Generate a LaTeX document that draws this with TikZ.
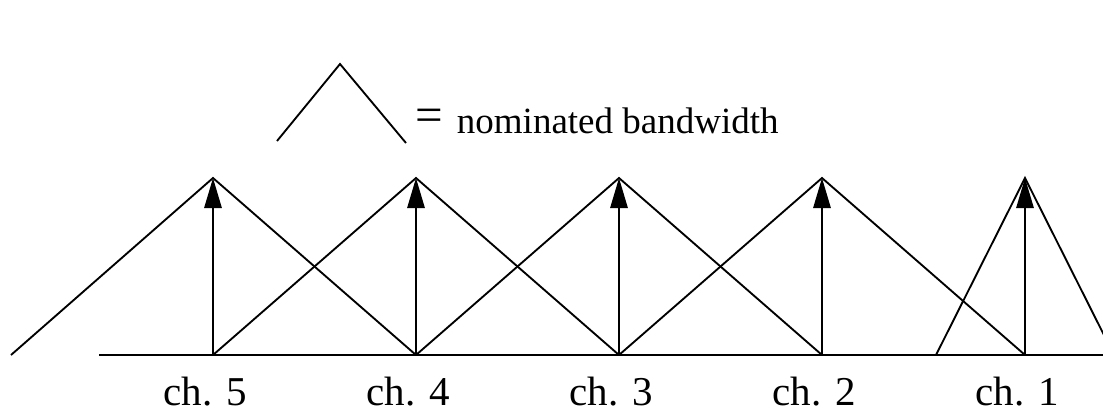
\documentclass[tikz,border=0pt]{standalone}
\usepackage{fontspec}
\setmainfont{Liberation Serif}
\usepackage{tikz}
\usetikzlibrary{arrows.meta}
\usetikzlibrary{calc}

\begin{document}
\begin{tikzpicture}[x=0.75pt, y=-0.75pt, line width=1.4pt,
        chan/.style={-{Triangle[length=22.5pt, width=13pt]}},
        chlabel/.style={anchor=base, inner sep=0, font=\fontsize{30.75}{36}\selectfont}]
        \clip (0,0) rectangle (1103,411);
        % peaks and bases of the channels
        \coordinate (p5) at (213,178); \coordinate (b5) at (213,355);
        \coordinate (p4) at (416,178); \coordinate (b4) at (416,355);
        \coordinate (p3) at (619,178); \coordinate (b3) at (619,355);
        \coordinate (p2) at (822,178); \coordinate (b2) at (822,355);
        \coordinate (p1) at (1025,178); \coordinate (b1) at (1025,355);
        \coordinate (L) at (11,355);
        \coordinate (A0) at (99,355); \coordinate (A1) at (1103,355);
        \coordinate (n1) at (936,355); \coordinate (n2) at (1114,355);
        \draw (A0) -- (A1);
        \draw (L) -- (p5) -- (b4);
        \draw (b5) -- (p4) -- (b3);
        \draw (b4) -- (p3) -- (b2);
        \draw (b3) -- (p2) -- (b1);
        \draw (n1) -- (p1) -- (n2);
        \draw[chan] (b5) -- (p5);
        \draw[chan] (b4) -- (p4);
        \draw[chan] (b3) -- (p3);
        \draw[chan] (b2) -- (p2);
        \draw[chan] (b1) -- (p1);
        \node[chlabel] (l5) at (205,405) {ch. 5};
        \node[chlabel] (l4) at (408,405) {ch. 4};
        \node[chlabel] (l3) at (611,405) {ch. 3};
        \node[chlabel] (l2) at (814,405) {ch. 2};
        \node[chlabel] (l1) at (1017,405) {ch. 1};
        % legend
        \coordinate (g1) at (277,141);
        \coordinate (g2) at (340,64);
        \coordinate (g3) at (406,143);
        \draw (g1) -- (g2) -- (g3);
        \node[anchor=base west, inner sep=0, font=\fontsize{36.75}{40}\selectfont] (eq) at (415,131) {=};
        \node[anchor=base west, inner sep=0, font=\fontsize{27.75}{33}\selectfont] (key) at (456,133) {nominated bandwidth};
    \end{tikzpicture}
\end{document}
